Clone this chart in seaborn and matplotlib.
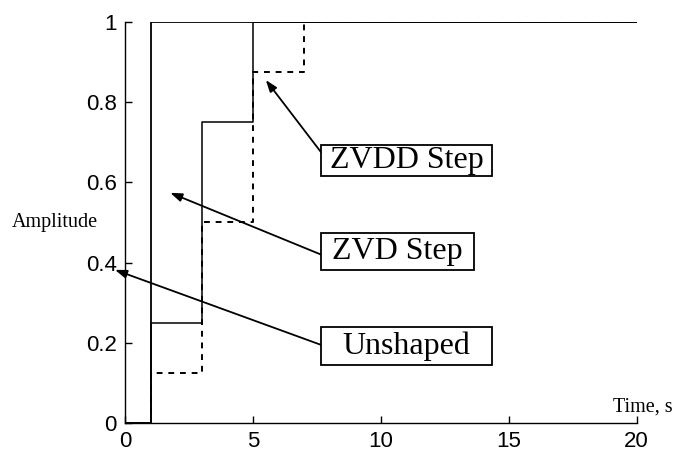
import pandas as pd
import matplotlib.pyplot as plt
from matplotlib.patches import Rectangle
import seaborn as sns

# === Step data (breakpoints, steps-post) ===
t_unshaped = [0, 1, 20]
a_unshaped = [0, 1, 1]
t_zvd = [0, 1, 3, 5, 20]
a_zvd = [0, 0.25, 0.75, 1, 1]
t_zvdd = [0, 1, 3, 5, 7, 20]
a_zvdd = [0, 0.125, 0.5, 0.875, 1, 1]

x_ticks = [0, 5, 10, 15, 20]
y_ticks = [0, 0.2, 0.4, 0.6, 0.8, 1]
y_tick_labels = ["0", "0.2", "0.4", "0.6", "0.8", "1"]

sns.set_style("ticks")
plt.rcParams["font.family"] = ["Liberation Sans", "DejaVu Sans"]
plt.rcParams["text.color"] = "black"

fig = plt.figure(figsize=(6.73, 4.55), dpi=100)
ax = fig.add_axes([0.186, 0.070, 0.760, 0.882])

sns.lineplot(x=t_unshaped, y=a_unshaped, drawstyle="steps-post", color="black",
             lw=1.3, estimator=None, sort=False, ax=ax)
sns.lineplot(x=t_zvd, y=a_zvd, drawstyle="steps-post", color="black",
             lw=1.1, estimator=None, sort=False, ax=ax)
sns.lineplot(x=t_zvdd, y=a_zvdd, drawstyle="steps-post", color="black",
             lw=1.4, linestyle=(0, (3, 3)), estimator=None, sort=False, ax=ax)

ax.set_xlim(0, 20)
ax.set_ylim(0, 1)
ax.set_xticks(x_ticks)
ax.set_yticks(y_ticks)
ax.set_yticklabels(y_tick_labels)
ax.tick_params(direction="in", length=5, width=1, labelsize=16, colors="black", pad=6)
sns.despine(ax=ax)
for s in ["left", "bottom"]:
    ax.spines[s].set_color("black")
    ax.spines[s].set_linewidth(1.0)

serif = ["Liberation Serif", "DejaVu Serif"]
fig.text(0.017, 0.512, "Amplitude", family=serif, fontsize=14.5, va="center",
         ha="left", color="black")
fig.text(0.999, 0.105, "Time, s", family=serif, fontsize=14.5, va="center",
         ha="right", color="black")

# === Labelled boxes with arrows ===
boxes = [
    ("ZVDD Step", (7.66, 0.616), 6.68, 0.077, (7.66, 0.675), (5.5, 0.855)),
    ("ZVD Step", (7.66, 0.382), 5.97, 0.092, (7.66, 0.42), (1.76, 0.574)),
    ("Unshaped", (7.66, 0.145), 6.68, 0.094, (7.66, 0.195), (-0.4, 0.382)),
]
for label, (bx, by), bw, bh, tail, head in boxes:
    ax.add_patch(Rectangle((bx, by), bw, bh, facecolor="white", edgecolor="black",
                           lw=1.3, zorder=5, clip_on=False))
    ax.text(bx + bw / 2, by + bh / 2, label, family=serif, fontsize=23,
            ha="center", va="center", zorder=6, color="black")
    ax.annotate("", xy=head, xytext=tail, annotation_clip=False,
                arrowprops=dict(arrowstyle="-|>,head_length=0.7,head_width=0.25",
                                color="black", lw=1.3, shrinkA=0, shrinkB=0))

fig.savefig("out.png", dpi=100)
